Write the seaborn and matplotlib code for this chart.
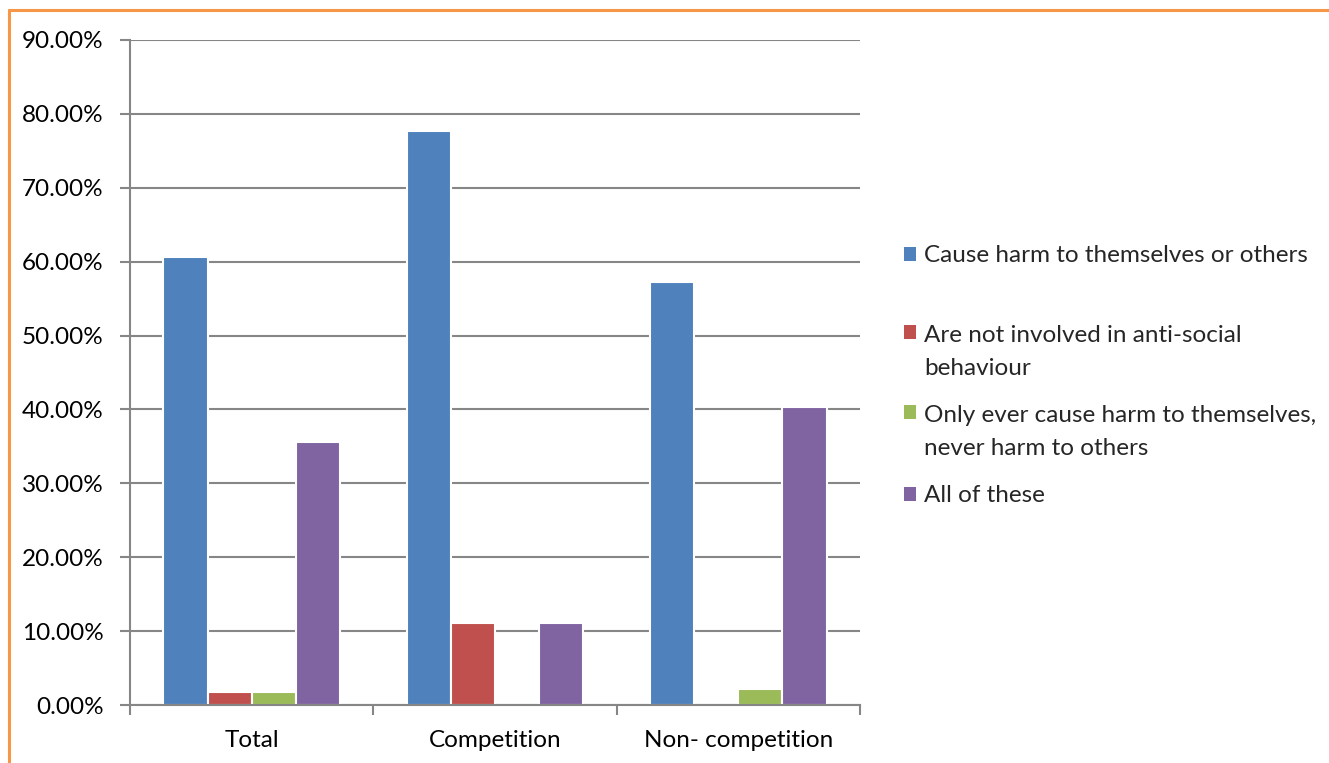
import numpy as np
import pandas as pd
import matplotlib
matplotlib.use("Agg")
import matplotlib.pyplot as plt
from matplotlib.lines import Line2D
from matplotlib.legend import Legend
from matplotlib.ticker import FuncFormatter, FixedLocator
import seaborn as sns

sns.set_style("white")
plt.rcParams["font.family"] = ["Lato", "DejaVu Sans"]

# data (percent)
groups = ["Total", "Competition", "Non- competition"]
answers = ["Cause harm to themselves or others",
           "Are not involved in anti-social\nbehaviour",
           "Only ever cause harm to themselves,\nnever harm to others",
           "All of these"]
harm_any = [60.6, 77.7, 57.3]
not_involved = [1.8, 11.1, 0.0]
only_self = [1.8, 0.0, 2.1]
all_these = [35.6, 11.1, 40.3]
colors = ["#4F81BD", "#C0504D", "#9BBB59", "#8064A2"]

df = pd.DataFrame({"Group": groups,
                   answers[0]: harm_any,
                   answers[1]: not_involved,
                   answers[2]: only_self,
                   answers[3]: all_these})
df_long = pd.melt(df, id_vars="Group", var_name="Answer", value_name="Value")

fig = plt.figure(figsize=(13.29, 7.63), dpi=100)
ax = fig.add_axes([130/1329, 58/763, 730/1329, 665/763])

sns.barplot(data=df_long, x="Group", y="Value", hue="Answer", order=groups,
            hue_order=answers, palette=colors, width=0.725, saturation=1,
            edgecolor="white", linewidth=1.5, ax=ax, legend=True)

ax.set_ylim(0, 90)
ax.set_xlim(-0.5, 2.5)
ax.set_yticks(np.arange(0, 91, 10))
ax.yaxis.set_major_formatter(FuncFormatter(lambda v, p: "%.2f%%" % v))
ax.set_xlabel("")
ax.set_ylabel("")
ax.yaxis.grid(True, color="#868686", linewidth=1.5)
ax.set_axisbelow(True)
for s in ["top", "right"]:
    ax.spines[s].set_visible(False)
for s in ["left", "bottom"]:
    ax.spines[s].set_color("#868686")
    ax.spines[s].set_linewidth(1.5)
ax.tick_params(axis="y", left=True, length=7, width=1.5, color="#868686",
               labelsize=17.5, pad=12, labelcolor="black")
ax.tick_params(axis="x", which="major", length=0, labelsize=17.5, pad=18, labelcolor="black")
ax.xaxis.set_minor_locator(FixedLocator([-0.5, 0.5, 1.5, 2.5]))
ax.tick_params(axis="x", which="minor", bottom=True, length=7, width=1.5, color="#868686")

# legend: one entry per box so each sits where the reference puts it
handles, labels = ax.get_legend_handles_labels()
ax.get_legend().remove()
leg_kw = dict(bbox_transform=fig.transFigure, frameon=False, fontsize=17.5,
              handlelength=0.5, handleheight=0.5, handletextpad=0.33,
              borderpad=0, borderaxespad=0, loc="center left")
entry_y = [256, 352, 432, 496]
for h, lab, yy in zip(handles, labels, entry_y):
    lg = Legend(ax, [h], [lab], bbox_to_anchor=(904/1329, 1 - yy/763), **leg_kw)
    for t in lg.get_texts():
        t.set_linespacing(1.7)
    for hh in lg.legend_handles:
        hh.set_edgecolor("none")
    # put the square next to the first line of wrapped labels
    if "\n" in lab:
        try:
            for col in lg._legend_handle_box.get_children():
                for row in col.get_children():
                    row.align = "top"
        except AttributeError:
            pass
    ax.add_artist(lg)

# orange frame
fig.add_artist(Line2D([9/1329, 1], [1 - 10/763, 1 - 10/763], transform=fig.transFigure,
                      color="#F79646", linewidth=2.2))
fig.add_artist(Line2D([9/1329, 9/1329], [0, 1 - 10/763], transform=fig.transFigure,
                      color="#F79646", linewidth=2.2))

fig.savefig("out.png", dpi=100)
